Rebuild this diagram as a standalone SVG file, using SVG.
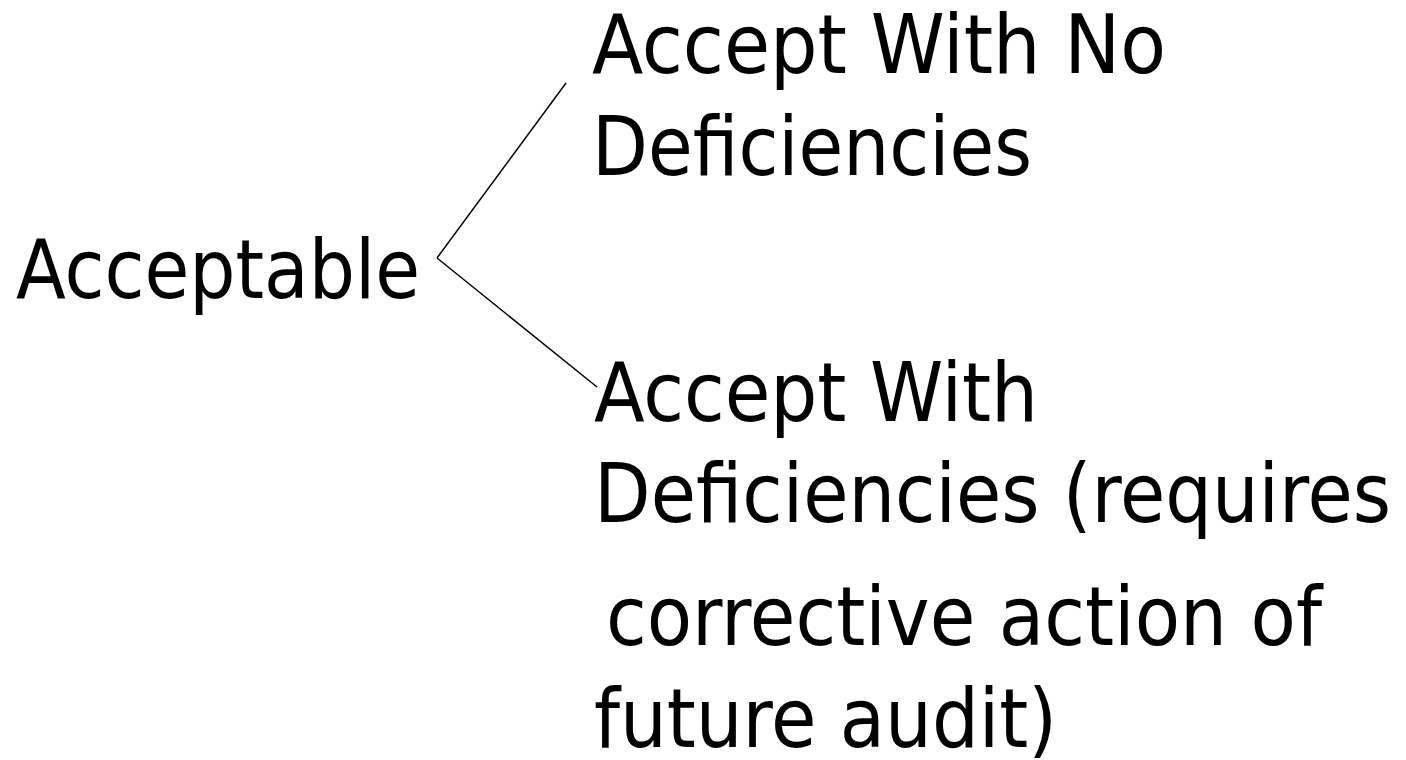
<svg xmlns="http://www.w3.org/2000/svg" width="1406" height="760" viewBox="0 0 1406 760">
<style>
text { font-family: "DejaVu Sans Condensed", "DejaVu Sans", sans-serif; font-size: 82px; fill: #000; }
.conn { stroke: #000; stroke-width: 1.5; fill: none; }
</style>
<rect width="1406" height="760" fill="#fff"/>
<g id="connectors">
<line class="conn" x1="437" y1="258" x2="566" y2="83"/>
<line class="conn" x1="437" y1="258" x2="597" y2="387"/>
</g>
<g id="node-acceptable">
<text x="16" y="298" textLength="404" lengthAdjust="spacingAndGlyphs">Acceptable</text>
</g>
<g id="node-no-deficiencies">
<text x="592" y="73" textLength="574" lengthAdjust="spacingAndGlyphs">Accept With No</text>
<text x="592" y="175" textLength="440" lengthAdjust="spacingAndGlyphs">Deficiencies</text>
</g>
<g id="node-with-deficiencies">
<text x="594" y="421" textLength="444" lengthAdjust="spacingAndGlyphs">Accept With</text>
<text x="594" y="522" textLength="797" lengthAdjust="spacingAndGlyphs">Deficiencies (requires</text>
<text x="606" y="645" textLength="716" lengthAdjust="spacingAndGlyphs">corrective action of</text>
<text x="594" y="747" textLength="463" lengthAdjust="spacingAndGlyphs">future audit)</text>
</g>
</svg>
